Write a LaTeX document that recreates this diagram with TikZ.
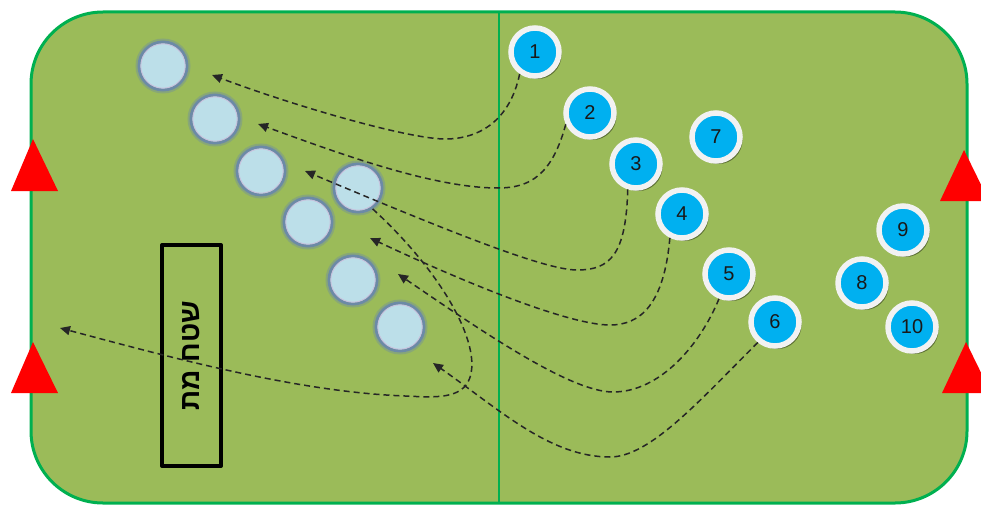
\documentclass[tikz,border=0pt]{standalone}
\usepackage{fontspec}
\setmainfont{Liberation Sans}
\newfontfamily\hebfont[Script=Hebrew]{Liberation Sans}
\TeXXeTstate=1
\usetikzlibrary{arrows.meta,shadows}
\definecolor{fieldgreen}{HTML}{9BBB59}
\definecolor{bordergreen}{HTML}{00B050}
\definecolor{numblue}{HTML}{00B0F0}
\definecolor{ringwhite}{HTML}{F2F2F2}
\definecolor{lightfill}{HTML}{BCDFE9}
\definecolor{lightring}{HTML}{6C8AA6}
\definecolor{lavender}{HTML}{C8C0DC}
\definecolor{conered}{HTML}{FF0000}
\begin{document}
\begin{tikzpicture}[x=1pt,y=-1pt,
  numc/.style={circle, draw=ringwhite, fill=numblue, line width=5.5pt, minimum size=48pt,
    inner sep=0pt, text=black!90, font=\fontsize{20}{20}\selectfont,
    drop shadow={shadow xshift=2.5pt, shadow yshift=-3pt, opacity=0.4, fill=black}},
  lightc/.style={circle, draw=lightring, fill=lightfill, line width=3pt, minimum size=48pt,
    inner sep=0pt, preaction={draw=lightring, line width=7pt, opacity=0.4}},
  run/.style={draw=black!85, line width=1.5pt, dash pattern=on 6pt off 4pt,
    -{Triangle[length=10pt,width=9pt]}},
  cone/.style={fill=conered},
  deadzone/.style={draw=black, line width=4pt, minimum width=221pt, minimum height=59pt,
    inner sep=0pt, line join=round, rotate=90,
    font=\hebfont\bfseries\fontsize{28}{28}\selectfont}
]
\clip (0,0) rectangle (981,505);
% field
\draw[bordergreen, line width=3pt, fill=fieldgreen, rounded corners=72pt] (31,12) rectangle (967,503);
\draw[bordergreen, line width=1.5pt] (499,12) -- (499,503);
% cones
\fill[cone] (33,139) -- (58,191) -- (11,191) -- cycle;
\fill[cone] (33,342) -- (58,393) -- (11,393) -- cycle;
\fill[cone] (964,150) -- (989,201) -- (940,201) -- cycle;
\fill[cone] (966,342) -- (991,393) -- (942,393) -- cycle;
% dead zone
\node[deadzone] (dz) at (191.5,355.5) {\beginR שטח מת\endR};
% light circles
\node[lightc] (L1) at (163,66) {};
\node[lightc] (L2) at (215,119) {};
\node[lightc] (L3) at (261,171) {};
\node[lightc] (L4) at (308,222) {};
\node[lightc] (L5) at (353,280) {};
\node[lightc] (L6) at (400,327) {};
\node[lightc] (D) at (358,188) {};
\foreach \c in {L1,L2,L3,L4,L5,L6,D}
  \draw[lavender, line width=0.9pt] (\c.center) circle (22.2pt);
% numbered circles
\node[numc] (n1) at (535,52) {1};
\node[numc] (n2) at (590,113) {2};
\node[numc] (n3) at (636,164) {3};
\node[numc] (n4) at (682,214) {4};
\node[numc] (n5) at (729,274) {5};
\node[numc] (n6) at (775,322) {6};
\node[numc] (n7) at (716,137) {7};
\node[numc] (n8) at (862,283) {8};
\node[numc] (n9) at (903,230) {9};
\node[numc] (n10) at (912,327) {10};
% arrow ends
\coordinate (t1) at (212,75);
\coordinate (t2) at (258,124);
\coordinate (t3) at (305,171);
\coordinate (t4) at (370,238);
\coordinate (t5) at (398,274);
\coordinate (t6) at (433,363);
\coordinate (t7) at (60,328);
% runs
\draw[run] (n1.235) .. controls (510,120) and (480,139) .. (445,139) .. controls (410,139) and (300,108) .. (t1);
\draw[run] (n2.205) .. controls (552,175) and (530,188) .. (498,188) .. controls (430,188) and (330,150) .. (t2);
\draw[run] (n3.252) .. controls (626,255) and (610,270) .. (577,270) .. controls (545,270) and (450,232) .. (t3);
\draw[run] (n4.243) .. controls (664,305) and (640,325) .. (610,325) .. controls (570,325) and (470,285) .. (t4);
\draw[run] (n5.248) .. controls (700,345) and (660,392) .. (613,392) .. controls (570,392) and (480,330) .. (t5);
\draw[run] (n6.230) .. controls (700,400) and (650,457) .. (610,457) .. controls (550,457) and (500,410) .. (t6);
\draw[run] (D.305) .. controls (445,275) and (485,350) .. (468,382) .. controls (458,400) and (430,397) .. (405,396) .. controls (300,392) and (180,360) .. (t7);
\end{tikzpicture}
\end{document}
